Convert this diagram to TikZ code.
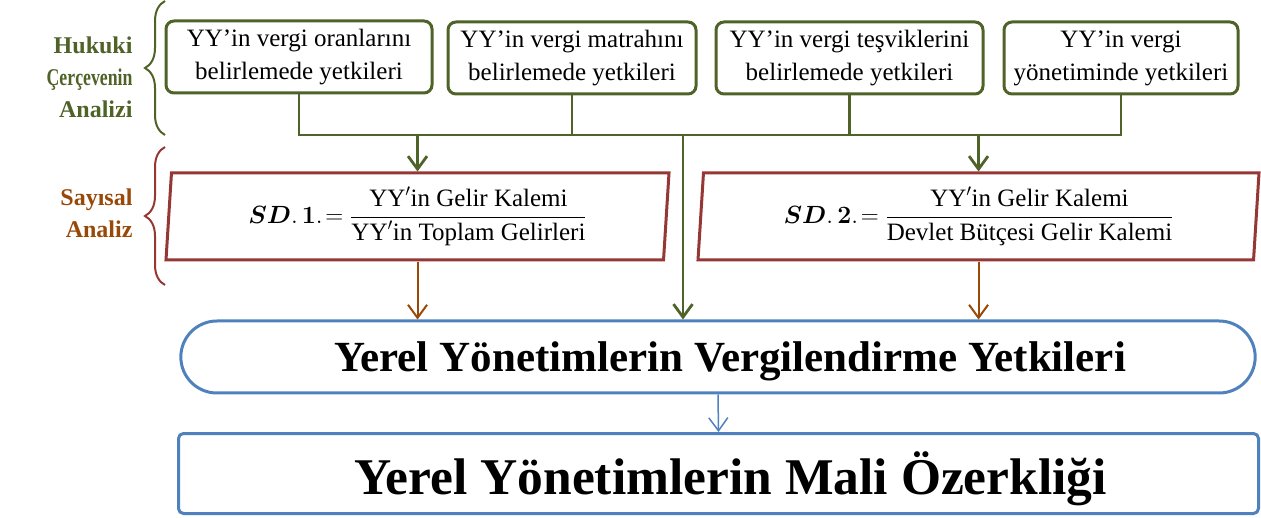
\documentclass[tikz,border=0pt]{standalone}
\usepackage{amsmath}
\usepackage{bm}
\usepackage{fontspec}
\setmainfont{Liberation Serif}
\usepackage{tikz}
\usetikzlibrary{positioning, shapes.geometric, shapes.misc, arrows.meta, decorations.pathreplacing}
\tikzset{>={Straight Barb[length=13pt,width=19pt]}}
\definecolor{mygreen}{HTML}{4F6228}
\definecolor{myred}{HTML}{953735}
\definecolor{mybrown}{HTML}{984807}
\definecolor{myblue}{HTML}{4F81BD}

\tikzset{
	yetki/.style={draw=mygreen, line width=3pt, rounded corners=8pt, fill=white, align=center,
		minimum height=72pt, inner sep=3pt, font=\fontsize{25}{33}\selectfont},
	oranbox/.style={draw=myred, line width=3pt, trapezium, trapezium left angle=85, trapezium right angle=95,
		trapezium stretches body=true, minimum height=87pt, inner sep=2pt, font=\fontsize{25}{30}\selectfont},
	yetkipill/.style={draw=myblue, line width=3pt, rounded rectangle, minimum width=1081pt, minimum height=72pt,
		text depth=0pt, font=\bfseries\fontsize{43}{50}\selectfont},
	malibox/.style={draw=myblue, line width=3pt, rounded corners=5pt, minimum width=1080pt, minimum height=80pt,
		text depth=0pt, font=\bfseries\fontsize{51.5}{58}\selectfont},
	baslik/.style={anchor=east, align=right, font=\bfseries\fontsize{24}{32}\selectfont},
	greenline/.style={draw=mygreen, line width=2.8pt},
	brownline/.style={draw=mybrown, line width=2pt},
	blueline/.style={draw=myblue, line width=1.5pt},
	kume/.style={line width=2pt, decorate, decoration={brace, amplitude=20pt}}
}

\begin{document}
\begin{tikzpicture}[x=1pt, y=1pt]
	\useasboundingbox (0,0) rectangle (1261,517);
	% legal framework
	\node[yetki, minimum width=266pt] (oran) at (299,460) {YY’in vergi oranlarını\\belirlemede yetkileri};
	\node[yetki, minimum width=248pt] (matrah) at (572,459) {YY’in vergi matrahını\\belirlemede yetkileri};
	\node[yetki, minimum width=267pt] (tesvik) at (849.5,459) {YY’in vergi teşviklerini\\belirlemede yetkileri};
	\node[yetki, minimum width=234pt] (yonetim) at (1121,459) {YY’in vergi\\yönetiminde yetkileri};
	% numerical analysis
	\node[oranbox, minimum width=503pt] (sd1) at (417.5,300.5)
		{$\bm{SD}.\,\bm{1}.\!=\dfrac{\text{YY}'\text{in Gelir Kalemi}}{\text{YY}'\text{in Toplam Gelirleri}}$};
	\node[oranbox, minimum width=561pt] (sd2) at (978.5,300.5)
		{$\bm{SD}.\,\bm{2}.\!=\dfrac{\text{YY}'\text{in Gelir Kalemi}}{\text{Devlet Bütçesi Gelir Kalemi}}$};
	\node[yetkipill] (pill) at (718,160) {\hspace*{24pt}Yerel Yönetimlerin Vergilendirme Yetkileri};
	\node[malibox] (mali) at (718.5,43.5) {\hspace*{24pt}Yerel Yönetimlerin Mali Özerkliği};
	% side labels
	\node[baslik, text=mygreen] (hukuk) at (136,440) {Hukuki\\\scalebox{0.74}[1]{Çerçevenin}\\Analizi};
	\node[baslik, text=mybrown] (sayisal) at (136,304) {Sayısal\\Analiz};
	\draw[kume, mygreen] (165,382) -- (165,516);
	\draw[kume, myred] (165,232) -- (165,370);
	% connectors
	\draw[greenline] (oran.south) -- (oran.south |- 0,382) coordinate (busL) -| (yonetim.south);
	\draw[greenline] (matrah.south) -- (matrah.south |- busL);
	\draw[greenline] (tesvik.south) -- (tesvik.south |- busL);
	\coordinate (busM) at (683,382);
	\draw[greenline, ->] (sd1.north |- busL) -- (sd1.north);
	\draw[greenline, ->] (sd2.north |- busL) -- (sd2.north);
	\draw[greenline, ->] (busM) -- (busM |- pill.north);
	\draw[brownline, ->] (sd1.south) -- (sd1.south |- pill.north);
	\draw[brownline, ->] (sd2.south) -- (sd2.south |- pill.north);
	\draw[blueline, ->] (pill.south) -- (mali.north);
\end{tikzpicture}
\end{document}
